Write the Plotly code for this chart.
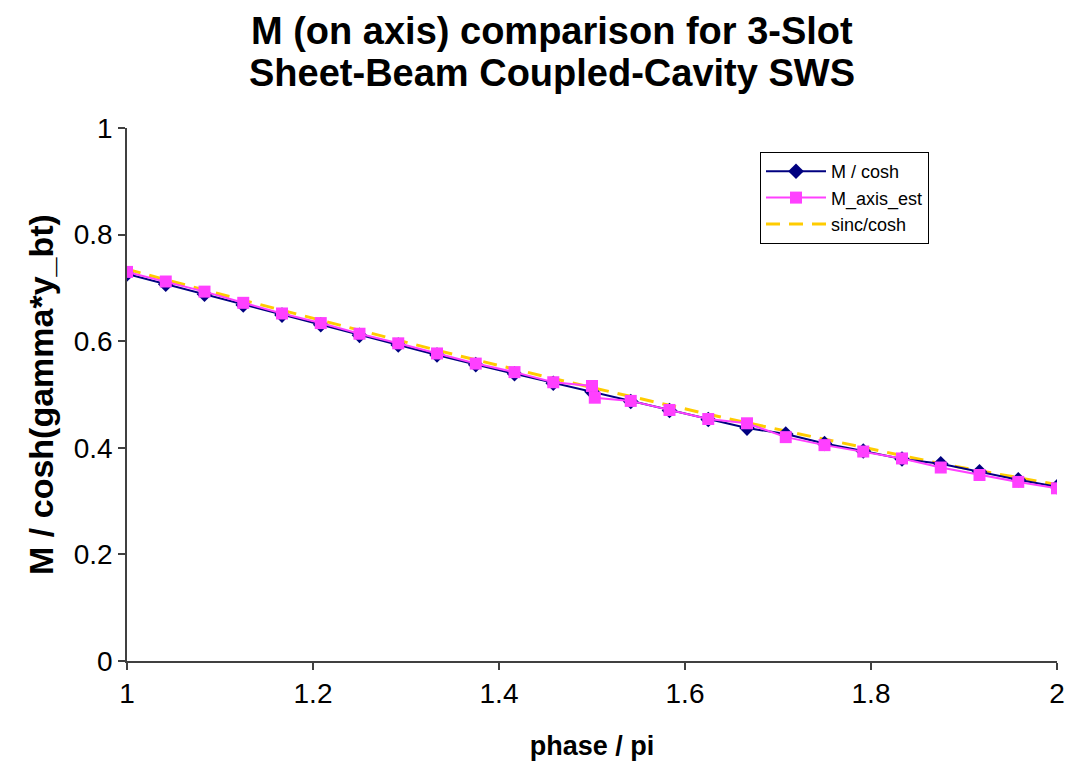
import plotly.graph_objects as go

# phase / pi sample points (steps of 1/24)
phase = [1 + i / 24 for i in range(25)]

m_cosh = [0.726, 0.707, 0.688, 0.668, 0.649, 0.631, 0.611, 0.593, 0.574,
          0.556, 0.539, 0.521, 0.505, 0.487, 0.470, 0.453, 0.437, 0.426,
          0.408, 0.394, 0.379, 0.370, 0.355, 0.340, 0.327]

# M_axis_est has an extra sample just past phase = 1.5
phase_est = phase[:13] + [1.503] + phase[13:]
m_axis_est = [0.730, 0.712, 0.693, 0.672, 0.652, 0.634, 0.614, 0.596, 0.577,
              0.558, 0.542, 0.523, 0.516, 0.494, 0.488, 0.471, 0.454, 0.446,
              0.420, 0.405, 0.393, 0.380, 0.363, 0.349, 0.336, 0.324]

sinc_cosh = [0.735, 0.715, 0.696, 0.677, 0.658, 0.639, 0.620, 0.601, 0.583,
             0.565, 0.547, 0.530, 0.513, 0.496, 0.479, 0.463, 0.447, 0.431,
             0.416, 0.401, 0.386, 0.370, 0.357, 0.344, 0.331]

title_lines = ["M (on axis) comparison for 3-Slot", "Sheet-Beam Coupled-Cavity SWS"]

FONT = "Liberation Sans, Arial, sans-serif"
W, H = 1070, 772
ML, MR, MT, MB = 127, 13, 128, 111
PH = H - MT - MB
PW = W - ML - MR

fig = go.Figure()
fig.add_trace(go.Scatter(
    x=phase, y=sinc_cosh, name="sinc/cosh", mode="lines", legendrank=3,
    line=dict(color="#FFCC00", width=3, dash="14px,9px"),
))
fig.add_trace(go.Scatter(
    x=phase, y=m_cosh, name="M / cosh", mode="lines+markers", legendrank=1,
    line=dict(color="#000080", width=2),
    marker=dict(symbol="diamond", size=12, color="#000080"),
))
fig.add_trace(go.Scatter(
    x=phase_est, y=m_axis_est, name="M_axis_est", mode="lines+markers", legendrank=2,
    line=dict(color="#FF40FF", width=2),
    marker=dict(symbol="square", size=12, color="#FF40FF"),
))

# two-line chart title, placed in pixels above the plot area
title_x = (552 - ML) / PW
for line_text, py in zip(title_lines, [31, 73]):
    fig.add_annotation(
        text=f"<b>{line_text}</b>", xref="paper", yref="paper",
        x=title_x, y=1 + (MT - py) / PH, xanchor="center", yanchor="middle",
        showarrow=False, font=dict(family=FONT, size=38, color="black"),
    )

fig.update_layout(
    width=W, height=H,
    margin=dict(l=ML, r=MR, t=MT, b=MB, autoexpand=False),
    paper_bgcolor="white", plot_bgcolor="white",
    font=dict(family=FONT, color="black"),
    legend=dict(
        x=(760 - ML) / PW, y=(H - MB - 152) / PH, xanchor="left", yanchor="top",
        bgcolor="white", bordercolor="black", borderwidth=1,
        font=dict(family=FONT, size=18, color="black"),
        tracegroupgap=2, itemwidth=60,
    ),
    showlegend=True,
)

fig.update_xaxes(
    range=[1, 2], tickvals=[1, 1.2, 1.4, 1.6, 1.8, 2],
    ticktext=["1", "1.2", "1.4", "1.6", "1.8", "2"],
    showgrid=False, zeroline=False, automargin=False,
    ticklabeloverflow="allow",
    showline=True, linecolor="#404040", linewidth=1.5,
    ticks="outside", ticklen=7, tickcolor="#404040", tickwidth=1.5,
    tickfont=dict(family=FONT, size=28, color="black"),
    title=dict(text="<b>phase / pi</b>", font=dict(family=FONT, size=27, color="black"), standoff=28),
)
fig.update_yaxes(
    range=[0, 1], tickvals=[0, 0.2, 0.4, 0.6, 0.8, 1],
    ticktext=["0", "0.2", "0.4", "0.6", "0.8", "1"],
    showgrid=False, zeroline=False, automargin=False,
    showline=True, linecolor="#404040", linewidth=1.5,
    ticks="outside", ticklen=7, tickcolor="#404040", tickwidth=1.5,
    tickfont=dict(family=FONT, size=28, color="black"),
    title=dict(text="<b>M / cosh(gamma*y_bt)</b>", font=dict(family=FONT, size=34, color="black"), standoff=10),
)

fig.write_html("out.html")
